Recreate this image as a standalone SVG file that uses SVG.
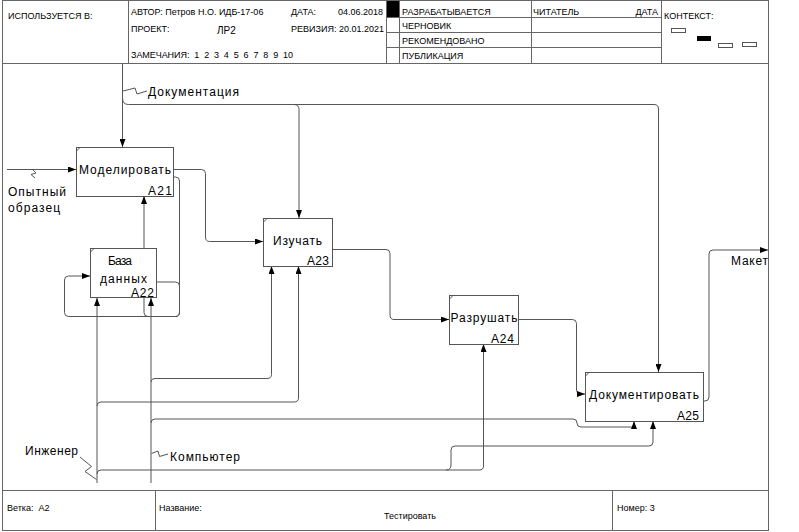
<svg xmlns="http://www.w3.org/2000/svg" width="799" height="532" viewBox="0 0 799 532">
<defs>
<marker id="arr" viewBox="0 0 8 6" refX="8" refY="3" markerWidth="8" markerHeight="6" orient="auto" markerUnits="userSpaceOnUse"><path d="M0,0 L8,3 L0,6 z" fill="#000"/></marker>
<style>
.frm{fill:none;stroke:#666;stroke-width:1}
.hd{font-family:"Liberation Sans",Arial,sans-serif;font-size:9px;fill:#000}
.box{fill:#fff;stroke:#555;stroke-width:1}
.tick{stroke:#555;stroke-width:1}
.nt{font-family:"Liberation Sans",Arial,sans-serif;font-size:12px;fill:#000}
.lb{font-family:"Liberation Sans",Arial,sans-serif;font-size:12px;fill:#000}
.c{fill:none;stroke:#555;stroke-width:1}
.ca{fill:none;stroke:#555;stroke-width:1;marker-end:url(#arr)}
.sq{fill:none;stroke:#555;stroke-width:1}
</style>
</defs>
<rect width="799" height="532" fill="#fff"/>
<g id="frame">
<rect class="frm" x="2.5" y="0.5" width="766" height="63"/>
<line class="frm" x1="128.5" y1="0.5" x2="128.5" y2="63.5"/>
<line class="frm" x1="386.5" y1="0.5" x2="386.5" y2="63.5"/>
<line class="frm" x1="399.5" y1="0.5" x2="399.5" y2="63.5"/>
<line class="frm" x1="531.5" y1="0.5" x2="531.5" y2="63.5"/>
<line class="frm" x1="661.5" y1="0.5" x2="661.5" y2="63.5"/>
<line class="frm" x1="386.5" y1="17.5" x2="661.5" y2="17.5"/>
<line class="frm" x1="386.5" y1="32.5" x2="661.5" y2="32.5"/>
<line class="frm" x1="386.5" y1="47.5" x2="661.5" y2="47.5"/>
<rect x="387" y="1" width="12" height="16" fill="#000"/>
<line class="frm" x1="2.5" y1="63.5" x2="2.5" y2="530.5"/>
<line class="frm" x1="768.5" y1="63.5" x2="768.5" y2="530.5"/>
<rect class="frm" x="2.5" y="490.5" width="766" height="40"/>
<line class="frm" x1="155.5" y1="490.5" x2="155.5" y2="530.5"/>
<line class="frm" x1="612.5" y1="490.5" x2="612.5" y2="530.5"/>
<rect x="671.5" y="28.5" width="14" height="4" fill="none" stroke="#555"/>
<rect x="697" y="36" width="14" height="5" fill="#000"/>
<rect x="718.5" y="43.5" width="14" height="4" fill="none" stroke="#555"/>
<rect x="742.5" y="42.5" width="14" height="4" fill="none" stroke="#555"/>
<text class="hd" x="8" y="18.5">ИСПОЛЬЗУЕТСЯ В:</text>
<text class="hd" x="131" y="14.5">АВТОР: Петров Н.О. ИДБ-17-06</text>
<text class="hd" x="291" y="14.5">ДАТА:</text>
<text class="hd" x="338" y="14.5">04.06.2018</text>
<text class="hd" x="131" y="32">ПРОЕКТ:</text>
<text class="hd" x="217" y="34" style="font-size:10px">ЛР2</text>
<text class="hd" x="291" y="32">РЕВИЗИЯ: 20.01.2021</text>
<text class="hd" x="131" y="58" style="white-space:pre" textLength="162">ЗАМЕЧАНИЯ:  1  2  3  4  5  6  7  8  9  10</text>
<text class="hd" x="402" y="14.5">РАЗРАБАТЫВАЕТСЯ</text>
<text class="hd" x="402" y="29">ЧЕРНОВИК</text>
<text class="hd" x="402" y="44">РЕКОМЕНДОВАНО</text>
<text class="hd" x="402" y="58.5">ПУБЛИКАЦИЯ</text>
<text class="hd" x="533" y="14.5">ЧИТАТЕЛЬ</text>
<text class="hd" x="658" y="14.5" text-anchor="end">ДАТА</text>
<text class="hd" x="664" y="19">КОНТЕКСТ:</text>
<text class="hd" x="7" y="511" style="white-space:pre">Ветка:  A2</text>
<text class="hd" x="159" y="511">Название:</text>
<text class="hd" x="410" y="519" text-anchor="middle">Тестировать</text>
<text class="hd" x="617" y="511">Номер: 3</text>
</g>
<g id="connectors">
<path class="ca" d="M122.5,63.5 V147"/>
<path class="c" d="M122.5,98 Q122.5,104.5 128.5,104.5 H654 Q658.5,104.5 658.5,109 V372"/>
<path class="ca" d="M294,104.5 Q299,104.5 299,109.5 V218"/>
<path class="ca" d="M658.5,300 V372"/>
<path class="ca" d="M7,169.5 H76"/>
<path class="ca" d="M173,169.5 H201.5 Q205.5,169.5 205.5,173.5 V237 Q205.5,241.5 209.5,241.5 H263"/>
<path class="ca" d="M173,177 H175.5 Q179.5,177 179.5,181 V312 Q179.5,316.5 175.5,316.5 H68.5 Q64.5,316.5 64.5,312.5 V280 Q64.5,276 68.5,276 H90"/>
<path class="ca" d="M157,282 H175.5 Q179.5,282 179.5,286 V312 Q179.5,316.5 175.5,316.5 H148 Q144,316.5 144,312.5 V196"/>
<path class="ca" d="M97,483 V298"/>
<path class="ca" d="M97,406 Q97,402 101,402 H294 Q298.5,402 298.5,398 V266"/>
<path class="ca" d="M97,474 Q97,470 101,470 H479 Q483.5,470 483.5,466 V344"/>
<path class="ca" d="M446,470 Q451,470 451,465 V450 Q451,446 455,446 H649 Q653,446 653,442 V421"/>
<path class="ca" d="M151,483 V298"/>
<path class="ca" d="M151,382 Q151,378.5 155,378.5 H267 Q271.5,378.5 271.5,374.5 V266"/>
<path class="c" d="M151,423 Q151,419 155,419 H573 Q577,419 577,423 Q577,427 581,427 H630 Q634,427 634,428"/>
<path class="ca" d="M634,428 V421"/>
<path class="ca" d="M332,249.5 H386 Q390,249.5 390,253.5 V315 Q390,319.5 394,319.5 H449"/>
<path class="ca" d="M518,319.5 H572.5 Q576.5,319.5 576.5,323.5 V390 Q576.5,394 580.5,394 H585"/>
<path class="ca" d="M703,401 H705 Q709,401 709,397 V254 Q709,250 713,250 H768"/>
<path class="sq" d="M123,91 L135,88 L137,94 L147,91"/>
<path class="sq" d="M32,169 L36,173 L31,174.5 L35,178"/>
<path class="sq" d="M80,457 L91.5,466.5 L85,471.5 L96.5,479.5"/>
<path class="sq" d="M151.5,453.5 L158,451 L159.5,456.5 L168,454"/>
<text class="lb" x="148" y="96" textLength="91">Документация</text>
<text class="lb" x="8" y="195.5" textLength="58">Опытный</text>
<text class="lb" x="8" y="212" textLength="52">образец</text>
<text class="lb" x="25" y="455" textLength="53">Инженер</text>
<text class="lb" x="170" y="460.5" textLength="70">Компьютер</text>
<text class="lb" x="731" y="265" textLength="37">Макет</text>
</g>
<g id="A21">
<rect class="box" x="76.5" y="147.5" width="97" height="49"/>
<line class="tick" x1="76.5" y1="151" x2="80" y2="147.5"/>
<text class="nt" x="79" y="173.5" textLength="92">Моделировать</text>
<text class="nt" x="148" y="195" textLength="24">A21</text>
</g>
<g id="A22">
<rect class="box" x="90.5" y="248.5" width="66" height="49"/>
<line class="tick" x1="90.5" y1="252" x2="94" y2="248.5"/>
<text class="nt" x="108" y="265" textLength="24">База</text>
<text class="nt" x="100" y="282.5" textLength="47">данных</text>
<text class="nt" x="131" y="297" textLength="23">A22</text>
</g>
<g id="A23">
<rect class="box" x="263.5" y="218.5" width="69" height="48"/>
<line class="tick" x1="263.5" y1="222" x2="267" y2="218.5"/>
<text class="nt" x="273" y="244.5" textLength="49">Изучать</text>
<text class="nt" x="307" y="265" textLength="22">A23</text>
</g>
<g id="A24">
<rect class="box" x="449.5" y="295.5" width="69" height="49"/>
<line class="tick" x1="449.5" y1="299" x2="453" y2="295.5"/>
<text class="nt" x="450.5" y="322" textLength="67">Разрушать</text>
<text class="nt" x="491" y="342.5" textLength="23">A24</text>
</g>
<g id="A25">
<rect class="box" x="585.5" y="372.5" width="118" height="49"/>
<line class="tick" x1="585.5" y1="376" x2="589" y2="372.5"/>
<text class="nt" x="589" y="399" textLength="110">Документировать</text>
<text class="nt" x="677" y="420" textLength="22">A25</text>
</g>
</svg>
